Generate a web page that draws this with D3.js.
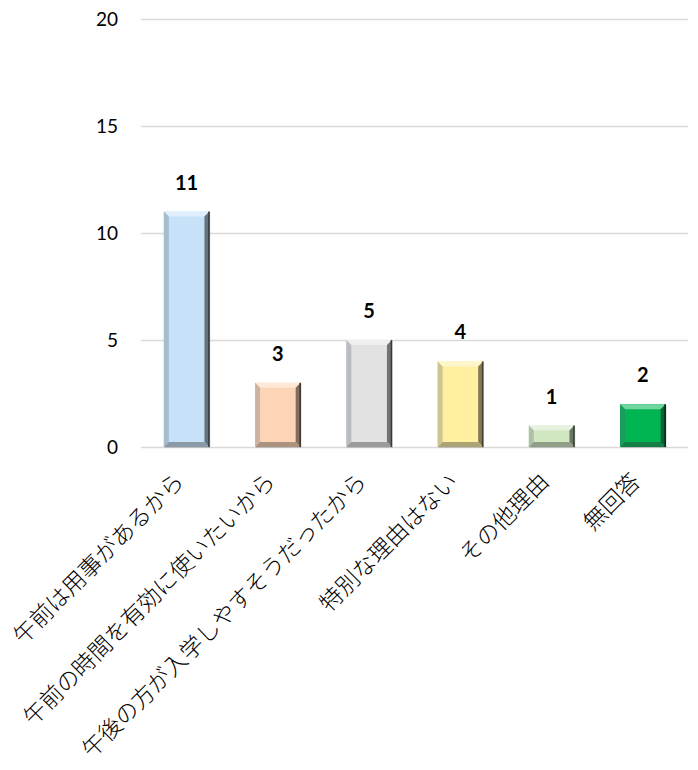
<!DOCTYPE html>
<html>
<head>
<meta charset="utf-8">
<script src="https://cdn.jsdelivr.net/npm/d3@7"></script>
<style>
  html, body { margin: 0; padding: 0; background: #fff; }
  svg { display: block; }
</style>
</head>
<body>
<svg id="chart" width="698" height="770"></svg>
<script>
// Reasons given for choosing the afternoon session (number of respondents)
const categories = [
  "午前は用事があるから",
  "午前の時間を有効に使いたいから",
  "午後の方が入学しやすそうだったから",
  "特別な理由はない",
  "その他理由",
  "無回答"
];
const values = [11, 3, 5, 4, 1, 2];
const barColors = ["#c6e1f8", "#fdd5b6", "#e2e2e2", "#fff0a1", "#d0e7c1", "#00b451"];
const yTicks = [0, 5, 10, 15, 20];

const svg = d3.select("#chart");
const margin = { left: 141, top: 19 };

const x = d3.scaleBand()
  .domain(categories)
  .range([margin.left, 688.5])
  .paddingInner(0.5)
  .paddingOuter(0.25);

const y = d3.scaleLinear()
  .domain([0, 20])
  .range([447, margin.top]);

// horizontal gridlines
svg.append("g")
  .selectAll("line")
  .data(yTicks)
  .join("line")
  .attr("x1", margin.left)
  .attr("x2", 688)
  .attr("y1", d => Math.round(y(d)) + 0.5)
  .attr("y2", d => Math.round(y(d)) + 0.5)
  .attr("stroke", "#d9d9d9")
  .attr("stroke-width", 1.3);

// y axis labels
const yAxis = d3.axisLeft(y).tickValues(yTicks).tickSize(0).tickPadding(0);
const yg = svg.append("g")
  .attr("transform", "translate(118,0)")
  .call(yAxis);
yg.select(".domain").remove();
yg.selectAll("text")
  .attr("font-family", "Lato, 'Open Sans', sans-serif")
  .attr("font-size", 19)
  .attr("fill", "#000")
  .attr("dy", "0.36em");

// bevelled bars
const mix = (c, t, k) => d3.interpolateRgb(c, t)(k);
const bars = svg.append("g");
categories.forEach((cat, i) => {
  const v = values[i];
  const bx = x(cat), bw = x.bandwidth();
  const by = y(v), bh = y(0) - y(v);
  const b = Math.min(5, bh / 2);
  const c = barColors[i];
  const g = bars.append("g");
  // soft drop shadow
  g.append("rect")
    .attr("x", bx + 1).attr("y", by + 1)
    .attr("width", bw).attr("height", bh)
    .attr("fill", "rgba(0,0,0,0.12)");
  g.append("rect")
    .attr("x", bx).attr("y", by)
    .attr("width", bw).attr("height", bh)
    .attr("fill", c);
  const pts = a => a.map(p => p.join(",")).join(" ");
  // top facet
  g.append("polygon")
    .attr("points", pts([[bx, by], [bx + bw, by], [bx + bw - b, by + b], [bx + b, by + b]]))
    .attr("fill", mix(c, "#ffffff", 0.45));
  // left facet
  g.append("polygon")
    .attr("points", pts([[bx, by], [bx + b, by + b], [bx + b, by + bh - b], [bx, by + bh]]))
    .attr("fill", mix(c, "#5a6470", 0.3));
  // right facet
  g.append("polygon")
    .attr("points", pts([[bx + bw, by], [bx + bw, by + bh], [bx + bw - b, by + bh - b], [bx + bw - b, by + b]]))
    .attr("fill", mix(c, "#1a1a1a", 0.55));
  // bottom facet
  g.append("polygon")
    .attr("points", pts([[bx, by + bh], [bx + bw, by + bh], [bx + bw - b, by + bh - b], [bx + b, by + bh - b]]))
    .attr("fill", mix(c, "#303030", 0.4));
  // dark right edge
  g.append("line")
    .attr("x1", bx + bw - 0.5).attr("x2", bx + bw - 0.5)
    .attr("y1", by).attr("y2", by + bh)
    .attr("stroke", mix(c, "#000000", 0.75))
    .attr("stroke-width", 1.5);
});

// value labels
svg.append("g")
  .selectAll("text")
  .data(values)
  .join("text")
  .attr("x", (d, i) => x(categories[i]) + x.bandwidth() / 2)
  .attr("y", d => y(d) - 22)
  .attr("text-anchor", "middle")
  .attr("font-family", "Lato, 'Open Sans', sans-serif")
  .attr("font-weight", "bold")
  .attr("font-size", 20)
  .attr("fill", "#000")
  .text(d => d);

// rotated category labels
svg.append("g")
  .selectAll("text")
  .data(categories)
  .join("text")
  .attr("transform", d => `translate(${x(d) + x.bandwidth() / 2 - 1},${483}) rotate(-45)`)
  .attr("text-anchor", "end")
  .attr("font-family", "'Noto Sans CJK JP', sans-serif")
  .attr("font-weight", 300)
  .attr("font-size", 23)
  .attr("fill", "#000")
  .text(d => d);
</script>
</body>
</html>
